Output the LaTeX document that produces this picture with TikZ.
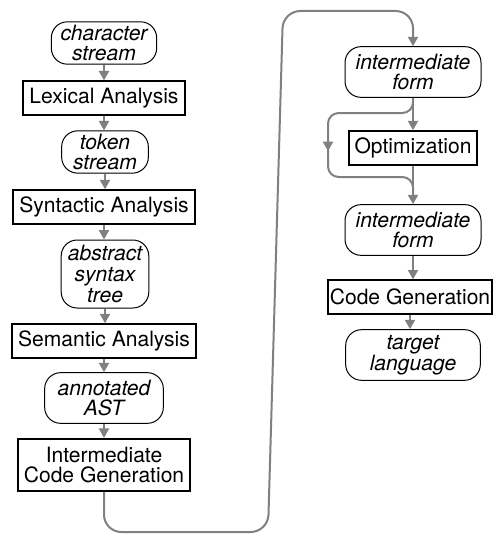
\documentclass[tikz,border=0pt]{standalone}
\usepackage{fontspec}
\setmainfont{TeX Gyre Heros}
\usetikzlibrary{arrows.meta}
\definecolor{flowgray}{gray}{0.5}
\newcommand{\chartfont}{\fontsize{15.8pt}{15.5pt}\selectfont}
\tikzset{
  phase/.style = {rectangle, draw=black, line width=1.5pt, fill=white,
                  inner xsep=4.5pt, inner ysep=5pt, minimum height=25pt,
                  align=center, font=\chartfont},
  data/.style  = {rectangle, draw=black, line width=0.75pt, fill=white,
                  rounded corners=12pt, inner xsep=5pt, inner ysep=2.25pt,
                  align=center, font=\chartfont\itshape},
  flow/.style  = {draw=flowgray, line width=1.5pt,
                  -{Triangle[length=7pt,width=7.5pt]}},
  pipe/.style  = {draw=flowgray, line width=1.5pt},
}

\begin{document}
\begin{tikzpicture}[x=0.75pt, y=-0.75pt]
  \useasboundingbox (0,0) rectangle (501,535);
  % front end
  \node[data, minimum width=79pt] (cs) at (104,43) {character\\stream};
  \node[phase] (lex) at (104,98) {Lexical Analysis};
  \node[data, minimum width=65pt] (ts) at (105,152) {token\\stream};
  \node[phase] (syn) at (104,207) {Syntactic Analysis};
  \node[data, minimum width=64.5pt, minimum height=51pt] (ast) at (105,274)
    {abstract\\syntax\\tree};
  \node[phase] (sem) at (104,341) {Semantic Analysis};
  \node[data, minimum width=89pt, minimum height=38pt] (aast) at (104,398)
    {annotated\\AST};
  \node[phase, inner ysep=6pt] (icg) at (104,465)
    {Intermediate\\Code Generation};
  % back end
  \node[data, minimum width=102pt, minimum height=38pt] (if1) at (413,72)
    {intermediate\\form};
  \node[phase] (opt) at (413,148) {Optimization};
  \node[data, minimum width=102pt, minimum height=38pt] (if2) at (413,230)
    {intermediate\\form};
  \node[phase, inner xsep=1.5pt] (cg) at (410,297) {Code Generation};
  \node[data, minimum width=101pt, minimum height=38pt] (tl) at (413,355)
    {target\\language};

  \foreach \a/\b in {cs/lex, lex/ts, ts/syn, syn/ast, ast/sem, sem/aast,
                     aast/icg, if1/opt, opt/if2, if2/cg, cg/tl}
    \draw[flow] (\a.south) -- (\a.south |- \b.north);

  % from the front end over to the back end
  \coordinate (lowL) at (104,532);
  \coordinate (lowR) at (268,532);
  \coordinate (topL) at (283,11);
  \coordinate (topR) at (413,11);
  \draw[flow, rounded corners=13pt] (icg.south) -- (lowL) -- (lowR)
    -- (topL) -- (topR) -- (if1.north);

  % optimization may be skipped
  \coordinate (skipA) at (413,113);
  \coordinate (skipB) at (328,113);
  \coordinate (skipM) at (328,151);
  \coordinate (skipC) at (328,177);
  \coordinate (skipD) at (413,177);
  \coordinate (skipE) at (413,196);
  \draw[flow, rounded corners=8pt] (if1.south) -- (skipA) -- (skipB)
    -- (skipM);
  \draw[pipe, rounded corners=8pt] ([yshift=3pt]skipM) -- (skipC)
    -- (skipD) -- (skipE);
\end{tikzpicture}
\end{document}
